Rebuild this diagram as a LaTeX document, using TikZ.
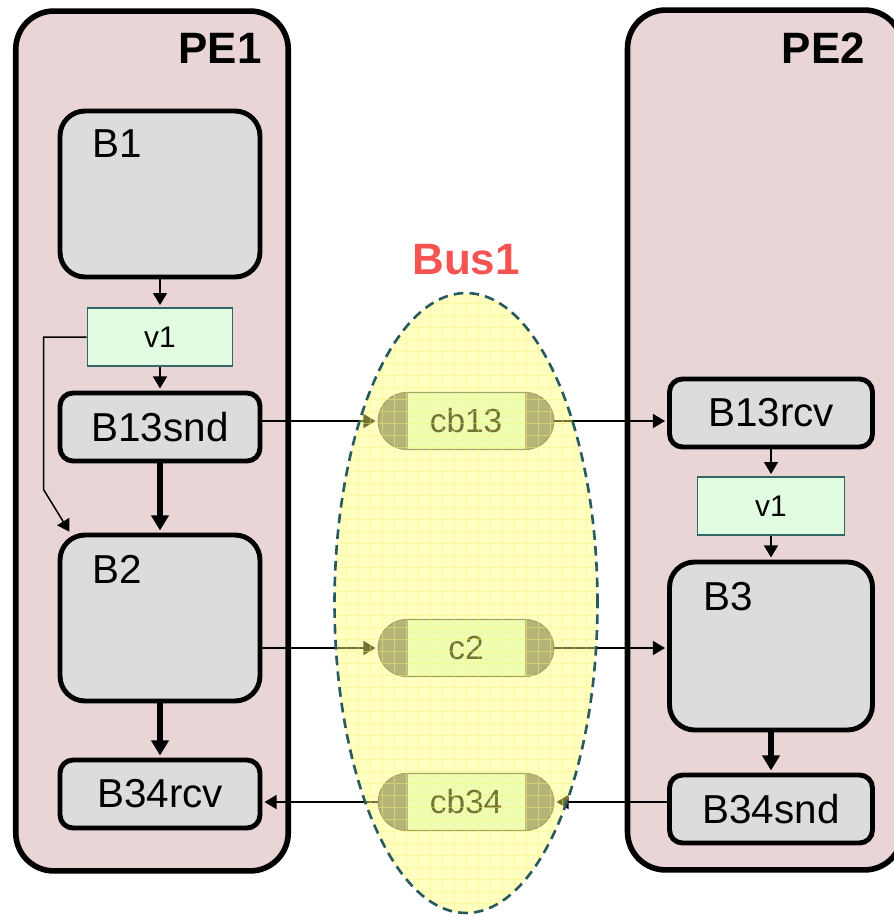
\documentclass[tikz,border=0pt]{standalone}
\usepackage{fontspec}
\setmainfont{Liberation Sans}
\usetikzlibrary{arrows.meta,calc,positioning,shapes.geometric,shapes.misc}

\definecolor{pefill}{RGB}{233,212,214}
\definecolor{blockfill}{RGB}{220,220,220}
\definecolor{varfill}{RGB}{226,252,226}
\definecolor{varline}{RGB}{51,102,102}
\definecolor{busfill}{RGB}{255,255,120}
\definecolor{busline}{RGB}{40,90,95}
\definecolor{busgrid}{RGB}{250,245,110}
\definecolor{buslabel}{RGB}{245,82,82}
\definecolor{chanend}{RGB}{120,120,120}

\tikzset{
  pe/.style={draw, line width=3.2pt, fill=pefill, rounded corners=0.76cm,
    minimum width=5.45cm, minimum height=17.2cm},
  pelabel/.style={font=\fontsize{25}{30}\selectfont\bfseries, inner sep=0pt},
  bigblock/.style={draw, line width=2.8pt, fill=blockfill, rounded corners=0.5cm,
    minimum width=4.0cm, minimum height=3.32cm},
  smallblock/.style={draw, line width=2.8pt, fill=blockfill, rounded corners=0.26cm,
    minimum width=4.0cm, minimum height=1.36cm, font=\fontsize{23}{27}\selectfont},
  blocklabel/.style={font=\fontsize{23}{27}\selectfont, inner sep=0pt},
  var/.style={draw=varline, line width=1pt, fill=varfill,
    minimum width=2.9cm, minimum height=1.16cm, font=\fontsize{17}{20}\selectfont},
  chan/.style={rounded rectangle, draw=black!65, line width=0.6pt, fill=chanend,
    minimum width=3.75cm, minimum height=1.14cm, font=\fontsize{19}{22}\selectfont,
    path picture={\fill[varfill, draw=black!50, line width=0.4pt]
      ($(path picture bounding box.north west)+(29,0)$) rectangle
      ($(path picture bounding box.south east)+(-29,0)$);}},
  bus/.style={ellipse, draw=busline, line width=1.5pt, dash pattern=on 5.5pt off 3.5pt,
    fill=busfill, fill opacity=0.45, inner sep=0pt,
    minimum width=5.26cm, minimum height=12.4cm,
    path picture={\draw[busgrid, solid, line width=0.4pt, draw opacity=0.45, step=0.24cm]
      (path picture bounding box.south west) grid (path picture bounding box.north east);}},
  conn/.style={->, line width=0.85pt, shorten >=1.2pt},
  flow/.style={-{Triangle[length=0.3cm,width=0.34cm]}, line width=3.2pt, shorten >=1.2pt}
}

\begin{document}
\begin{tikzpicture}[x=0.02cm, y=-0.02cm, >={Triangle[length=0.24cm,width=0.28cm]}]
\useasboundingbox (0,0) rectangle (893,916);
% processing elements
\node[pe] (PE1) at (152,441) {};
\node[pe, minimum width=5.5cm] (PE2) at (765,440) {};
\node[pelabel, below left=0.5cm and 0.58cm of PE1.north east, anchor=north east] (PE1L) {PE1};
\node[pelabel, below left=0.5cm and 0.8cm of PE2.north east, anchor=north east] (PE2L) {PE2};

% PE1 blocks
\node[bigblock] (B1) at (160,194) {};
\node[blocklabel, below right=0.42cm and 0.7cm of B1.north west, anchor=north west] (B1L) {B1};
\node[var] (v1pe1) at (160,337) {v1};
\node[smallblock] (B13snd) at (160,427) {B13snd};
\node[bigblock] (B2) at (160,618) {};
\node[blocklabel, below right=0.44cm and 0.7cm of B2.north west, anchor=north west] (B2L) {B2};
\node[smallblock] (B34rcv) at (160,794) {B34rcv};

% PE2 blocks
\node[smallblock, minimum width=4.06cm] (B13rcv) at (771,413) {B13rcv};
\node[var, minimum width=2.94cm] (v1pe2) at (771,506) {v1};
\node[bigblock, minimum width=4.06cm, minimum height=3.36cm] (B3) at (771,646) {};
\node[blocklabel, below right=0.44cm and 0.72cm of B3.north west, anchor=north west] (B3L) {B3};
\node[smallblock, minimum width=4.06cm] (B34snd) at (771,809) {B34snd};

% channels
\node[chan] (cb13) at (466,421) {cb13};
\node[chan] (c2) at (466,648) {c2};
\node[chan] (cb34) at (466,802) {cb34};

% inside PE1
\draw[conn] (B1) -- (v1pe1);
\draw[conn] (v1pe1) -- (B13snd);
\draw[flow] (B13snd) -- (B2);
\draw[flow] (B2) -- (B34rcv);
\draw[conn] (v1pe1.west) -| ($(B2.north west)+(-14,-43)$) -- ($(B2.north west)+(13,1)$);

% inside PE2
\draw[conn] (B13rcv) -- (v1pe2);
\draw[conn] (v1pe2) -- (B3);
\draw[flow] (B3) -- (B34snd);

% over the bus
\draw[conn] (cb13.west -| B13snd.east) -- (cb13.west);
\draw[conn] (cb13.east) -- (cb13.east -| B13rcv.west);
\draw[conn] (c2.west -| B2.east) -- (c2.west);
\draw[conn] (c2.east) -- (c2.east -| B3.west);
\draw[conn] (cb34.east -| B34snd.west) -- (cb34.east);
\draw[conn] (cb34.west) -- (cb34.west -| B34rcv.east);

% bus
\node[bus] (bus) at (466,603) {};
\node[font=\fontsize{25}{30}\selectfont\bfseries, text=buslabel, inner sep=0pt,
  above=0.32cm of bus] (busL) {Bus1};
\end{tikzpicture}
\end{document}
